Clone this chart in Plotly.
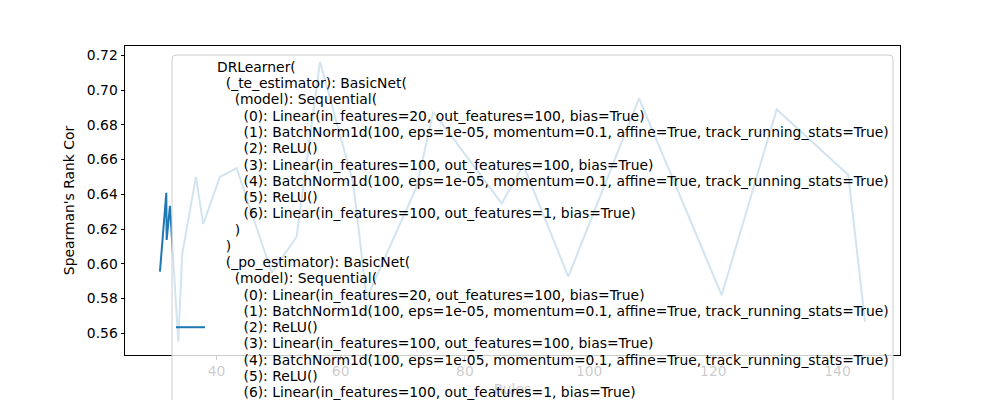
import plotly.graph_objects as go

# ---- data ----
rules = [30.9, 31.92, 31.98, 32.51, 33.85, 34.49, 36.70, 37.87, 40.56, 43.25,
         48.89, 52.91, 56.67, 62.03, 64.19, 72.24, 74.91, 85.93, 89.40, 96.65,
         108.04, 121.35, 130.21, 141.74, 144.43]
spearman = [0.5955, 0.6409, 0.6137, 0.6334, 0.5552, 0.6060, 0.6501, 0.6229, 0.6501, 0.6550,
            0.5949, 0.6156, 0.7163, 0.6463, 0.5801, 0.6444, 0.6875, 0.6348, 0.6569, 0.5926,
            0.6953, 0.5820, 0.6889, 0.6511, 0.5667]

x_ticks = [40, 60, 80, 100, 120, 140]
y_ticks = [0.56, 0.58, 0.60, 0.62, 0.64, 0.66, 0.68, 0.70, 0.72]

legend_lines = [
    "DRLearner(",
    "  (_te_estimator): BasicNet(",
    "    (model): Sequential(",
    "      (0): Linear(in_features=20, out_features=100, bias=True)",
    "      (1): BatchNorm1d(100, eps=1e-05, momentum=0.1, affine=True, track_running_stats=True)",
    "      (2): ReLU()",
    "      (3): Linear(in_features=100, out_features=100, bias=True)",
    "      (4): BatchNorm1d(100, eps=1e-05, momentum=0.1, affine=True, track_running_stats=True)",
    "      (5): ReLU()",
    "      (6): Linear(in_features=100, out_features=1, bias=True)",
    "    )",
    "  )",
    "  (_po_estimator): BasicNet(",
    "    (model): Sequential(",
    "      (0): Linear(in_features=20, out_features=100, bias=True)",
    "      (1): BatchNorm1d(100, eps=1e-05, momentum=0.1, affine=True, track_running_stats=True)",
    "      (2): ReLU()",
    "      (3): Linear(in_features=100, out_features=100, bias=True)",
    "      (4): BatchNorm1d(100, eps=1e-05, momentum=0.1, affine=True, track_running_stats=True)",
    "      (5): ReLU()",
    "      (6): Linear(in_features=100, out_features=1, bias=True)",
    "    )",
    "  )",
    ")",
]

# ---- layout geometry (page pixels; the page body adds an 8px offset) ----
OFF = 8
W, H = 1000 - OFF, 400 - OFF
AX_L, AX_R, AX_T, AX_B = 125, 900, 46, 355      # axes box in page pixels
L, T = AX_L - OFF, AX_T - OFF
R, B = W - (AX_R - OFF), H - (AX_B - OFF)
PW, PH = AX_R - AX_L, AX_B - AX_T
FS = 13.89
BLUE = "#1f77b4"


def px(xp):
    return (xp - AX_L) / PW


def py(yp):
    return (AX_B - yp) / PH


fig = go.Figure()
fig.add_trace(go.Scatter(x=rules, y=spearman, mode="lines",
                         line=dict(color=BLUE, width=2),
                         name="\n".join(legend_lines), showlegend=False,
                         hoverinfo="skip"))

# legend box (semi-transparent, above data like matplotlib's legend)
x0, x1, y0, y1 = px(172), px(893), py(55), py(470)
rx, ry = 4 / PW, 4 / PH
path = (f"M{x0+rx},{y0} L{x1-rx},{y0} Q{x1},{y0} {x1},{y0-ry} "
        f"L{x1},{y1+ry} Q{x1},{y1} {x1-rx},{y1} L{x0+rx},{y1} "
        f"Q{x0},{y1} {x0},{y1+ry} L{x0},{y0-ry} Q{x0},{y0} {x0+rx},{y0} Z")
fig.add_shape(type="path", path=path, xref="paper", yref="paper", layer="above",
              fillcolor="rgba(255,255,255,0.8)", line=dict(color="rgb(204,204,204)", width=1))

line_h = 16.27
first_y = 66.9
handle_y = first_y + 16 * line_h
fig.add_shape(type="line", xref="paper", yref="paper", layer="above",
              x0=px(176), x1=px(205), y0=py(handle_y), y1=py(handle_y),
              line=dict(color=BLUE, width=2))

for i, ln in enumerate(legend_lines):
    stripped = ln.lstrip(" ")
    indent = len(ln) - len(stripped)
    fig.add_annotation(x=px(215), y=py(first_y + i * line_h), xref="paper", yref="paper",
                       xanchor="left", yanchor="middle", showarrow=False,
                       text="\u00a0" * indent + stripped,
                       font=dict(family="DejaVu Sans", size=FS, color="black"))

axis_common = dict(showgrid=False, zeroline=False, showline=True, mirror=True,
                   linecolor="black", linewidth=1, ticks="outside", ticklen=3.5,
                   tickwidth=1, tickcolor="black",
                   tickfont=dict(family="DejaVu Sans", size=FS, color="black"))

fig.update_layout(
    width=W, height=H,
    margin=dict(l=L, r=R, t=T, b=B, autoexpand=False),
    paper_bgcolor="white", plot_bgcolor="white",
    font=dict(family="DejaVu Sans", size=FS, color="black"),
    xaxis=dict(range=[25.27, 150.06], tickvals=x_ticks,
               ticktext=[str(v) for v in x_ticks],
               title=dict(text="Rules", standoff=6,
                          font=dict(family="DejaVu Sans", size=FS, color="rgb(204,204,204)")),
               **axis_common),
    yaxis=dict(range=[0.5475, 0.7254], tickvals=y_ticks,
               ticktext=[f"{v:.2f}" for v in y_ticks],
               title=dict(text="Spearman's Rank Cor", standoff=8,
                          font=dict(family="DejaVu Sans", size=FS, color="black")),
               **axis_common),
)

fig.write_html("out.html")
